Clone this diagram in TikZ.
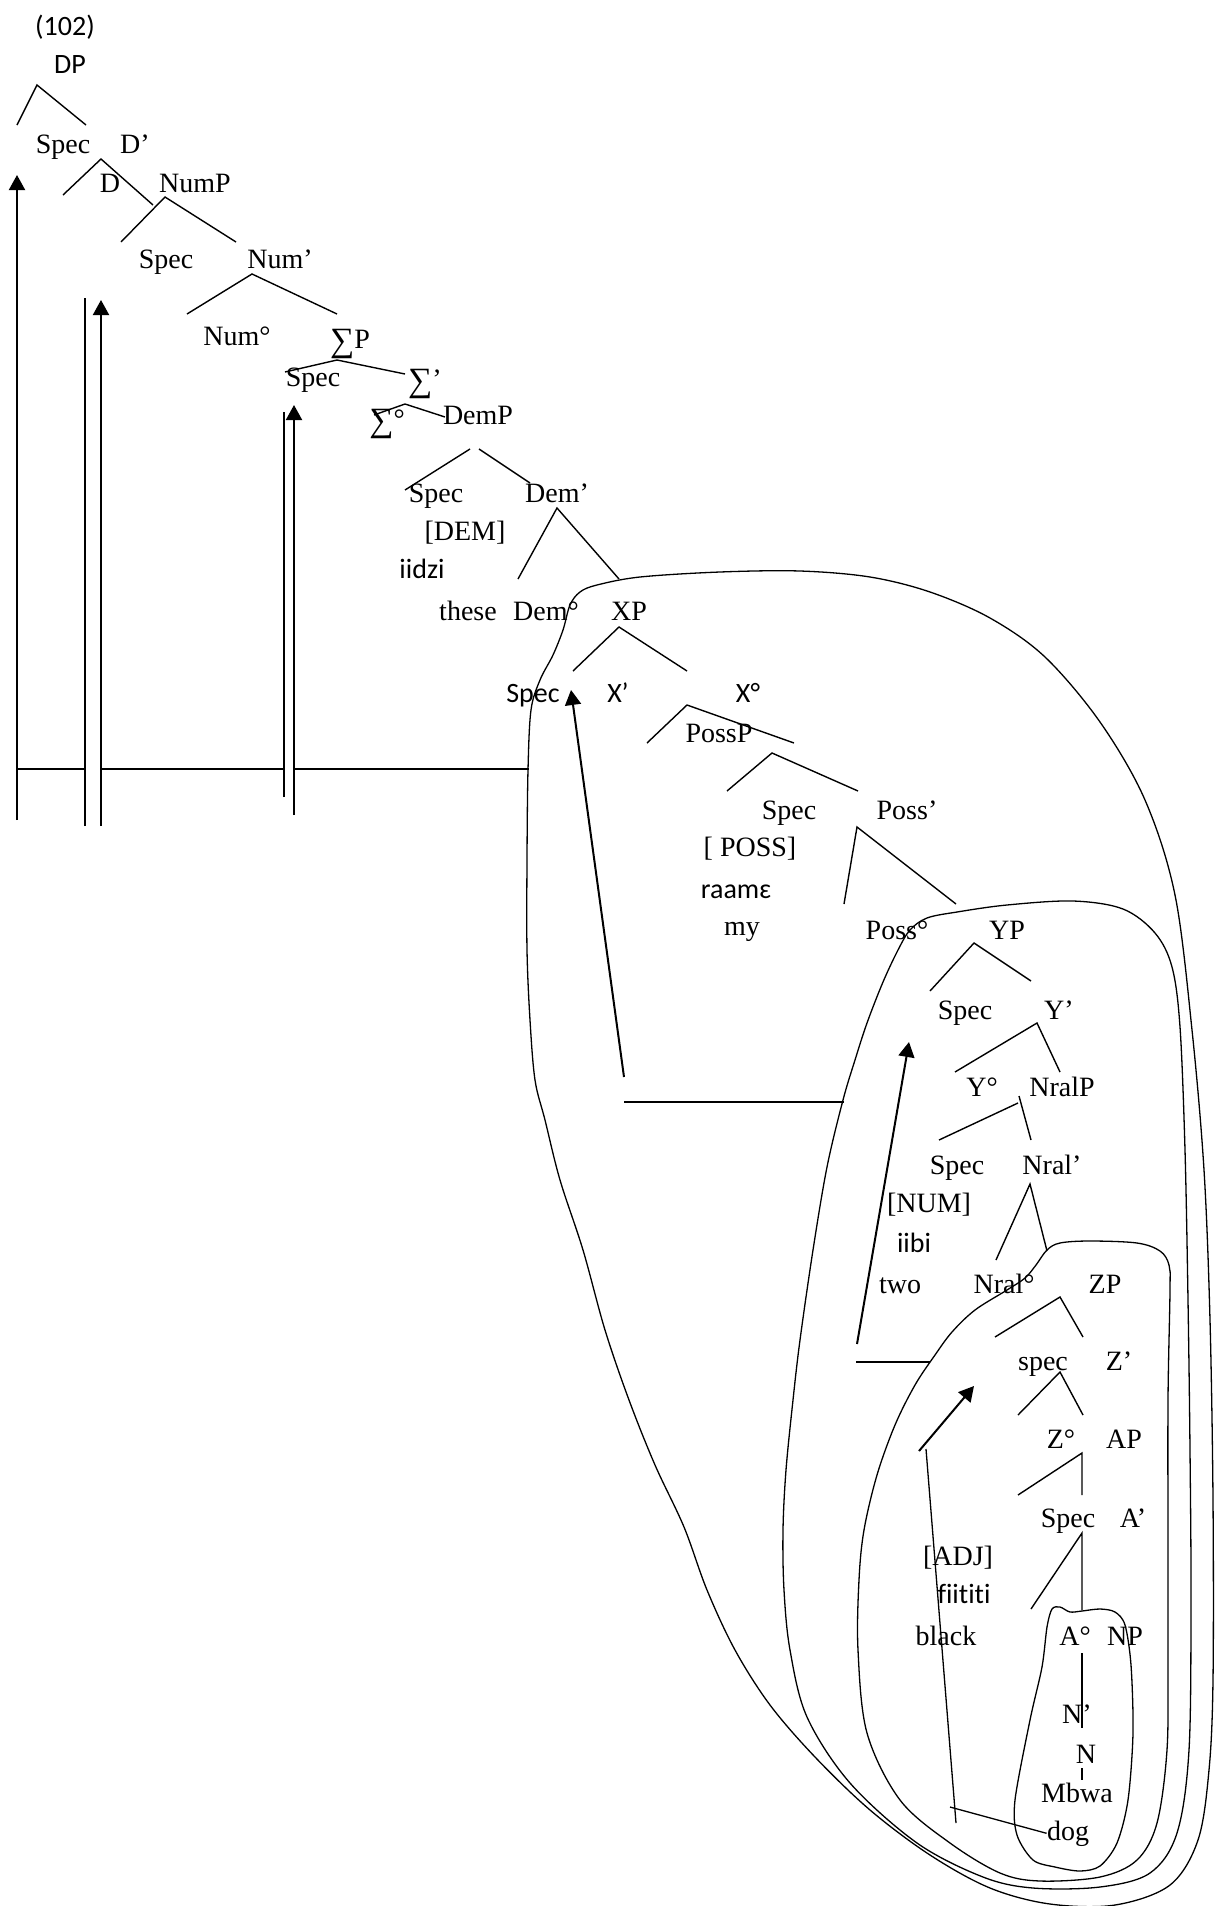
\documentclass[tikz,border=0pt]{standalone}
\usepackage{fontspec}
\setmainfont{Liberation Serif}
\newfontfamily\calib[Ligatures=NoCommon]{Carlito}
\usetikzlibrary{arrows.meta}
\newcommand\sumsign{{\fontsize{17}{17}\selectfont\raisebox{-1.5pt}{∑}}}
\tikzset{
  lab/.style={anchor=base,inner sep=0pt,font=\fontsize{14}{16}\selectfont},
  slab/.style={anchor=base,inner sep=0pt,font=\calib\fontsize{14}{16}\selectfont},
  branch/.style={line width=0.7pt},
  trace/.style={line width=0.65pt},
  mover/.style={line width=1pt,-{Triangle[length=7.5pt,width=8pt]}},
  loopline/.style={line width=0.65pt},
}
\begin{document}
\begin{tikzpicture}[x=0.5pt,y=-0.5pt]
\useasboundingbox (0,0) rectangle (1222,1906);

% labels of the tree
\node[slab] (ex) at (65,35) {(102)};
\node[slab] (dp) at (70,73) {DP};
\node[lab] (specD) at (63,153) {Spec};
\node[lab] (dbar) at (135,153) {D’};
\node[lab] (d) at (110,192) {D};
\node[lab] (nump) at (195,192) {NumP};
\node[lab] (specNum) at (166,268) {Spec};
\node[lab] (numbar) at (280,268) {Num’};
\node[lab] (numhead) at (237,345) {Num°};
\node[lab] (sigp) at (350,348) {\sumsign P};
\node[lab] (specSig) at (313,386) {Spec};
\node[lab] (sigbar) at (425,388) {\sumsign’};
\node[lab] (sighead) at (387,428) {\sumsign°};
\node[lab] (demp) at (478,424) {DemP};
\node[lab] (specDem) at (436,502) {Spec};
\node[lab] (dembar) at (557,502) {Dem’};
\node[lab] (demfeat) at (465,540) {[DEM]};
\node[slab] (iidzi) at (422,578) {iidzi};
\node[lab] (these) at (468,620) {these};
\node[lab] (demhead) at (546,620) {Dem°};
\node[lab] (xp) at (629,620) {XP};
\node[slab] (specX) at (533,702) {Spec};
\node[slab] (xbar) at (618,702) {X’};
\node[slab] (xhead) at (748,702) {X°};
\node[lab] (possp) at (719,742) {PossP};
\node[lab] (specPoss) at (789,819) {Spec};
\node[lab] (possbar) at (907,819) {Poss’};
\node[lab] (possfeat) at (750,856) {[ POSS]};
\node[slab] (raame) at (736,898) {raamɛ};
\node[lab] (my) at (742,935) {my};
\node[lab] (posshead) at (897,939) {Poss°};
\node[lab] (yp) at (1007,939) {YP};
\node[lab] (specY) at (965,1019) {Spec};
\node[lab] (ybar) at (1059,1019) {Y’};
\node[lab] (yhead) at (982,1096) {Y°};
\node[lab] (nralp) at (1062,1096) {NralP};
\node[lab] (specNral) at (957,1174) {Spec};
\node[lab] (nralbar) at (1052,1174) {Nral’};
\node[lab] (numfeat) at (929,1212) {[NUM]};
\node[slab] (iibi) at (914,1252) {iibi};
\node[lab] (two) at (900,1293) {two};
\node[lab] (nralhead) at (1004,1293) {Nral°};
\node[lab] (zp) at (1105,1293) {ZP};
\node[lab] (specZ) at (1043,1370) {spec};
\node[lab] (zbar) at (1119,1370) {Z’};
\node[lab] (zhead) at (1061,1448) {Z°};
\node[lab] (ap) at (1124,1448) {AP};
\node[lab] (specA) at (1068,1527) {Spec};
\node[lab] (abar) at (1133,1527) {A’};
\node[lab] (adjfeat) at (958,1565) {[ADJ]};
\node[slab] (fiititi) at (964,1603) {fiititi};
\node[lab] (black) at (946,1645) {black};
\node[lab] (ahead) at (1075,1645) {A°};
\node[lab] (np) at (1125,1645) {NP};
\node[lab] (nbar) at (1077,1723) {N’};
\node[lab] (n) at (1086,1763) {N};
\node[lab] (mbwa) at (1077,1802) {Mbwa};
\node[lab] (dog) at (1068,1840) {dog};

% branches
\draw[branch] (17,125) -- (37,85) -- (86,125);
\draw[branch] (63,195) -- (101,159) -- (153,205);
\draw[branch] (121,242) -- (165,197) -- (236,242);
\draw[branch] (187,314) -- (252,274) -- (337,314);
\draw[branch] (285,372) -- (337,360) -- (405,374);
\draw[branch] (374,415) -- (405,404) -- (445,417);
\draw[branch] (470,449) -- (405,490);
\draw[branch] (479,449) -- (530,483);
\draw[branch] (518,579) -- (557,508) -- (619,579);
\draw[branch] (573,671) -- (619,627) -- (687,671);
\draw[branch] (647,743) -- (687,705) -- (794,743);
\draw[branch] (727,791) -- (772,753) -- (858,791);
\draw[branch] (844,904) -- (857,827) -- (956,904);
\draw[branch] (930,991) -- (974,943) -- (1031,981);
\draw[branch] (955,1072) -- (1037,1023) -- (1060,1072);
\draw[branch] (939,1140) -- (1018,1103);
\draw[branch] (1019,1096) -- (1031,1140);
\draw[branch] (996,1260) -- (1030,1184) -- (1047,1251);
\draw[branch] (995,1337) -- (1060,1297) -- (1083,1337);
\draw[branch] (1018,1415) -- (1060,1372) -- (1083,1415);
\draw[branch] (1018,1495) -- (1082,1453) -- (1082,1495);
\draw[branch] (1031,1609) -- (1082,1533) -- (1082,1610);
\draw[branch] (1082,1653) -- (1082,1728);
\draw[branch] (1082,1768) -- (1082,1780);

% movement lines on the left
\coordinate (m1s) at (17,820);   \coordinate (m1t) at (17,175);
\coordinate (t2a) at (85,826);   \coordinate (t2b) at (85,298);
\coordinate (m2s) at (101,826);  \coordinate (m2t) at (101,300);
\coordinate (t3a) at (284,797);  \coordinate (t3b) at (284,412);
\coordinate (m3s) at (294,815);  \coordinate (m3t) at (294,405);
\draw[mover] (m1s) -- (m1t);
\draw[trace] (t2a) -- (t2b);
\draw[mover] (m2s) -- (m2t);
\draw[trace] (t3a) -- (t3b);
\draw[mover] (m3s) -- (m3t);
\draw[trace] (17,769) -- (85,769);
\draw[trace] (101,769) -- (284,769);
\draw[trace] (294,769) -- (529,769);

% movement lines inside the loops
\coordinate (m4s) at (624,1077); \coordinate (m4t) at (571,690);
\coordinate (m5s) at (857,1344); \coordinate (m5t) at (909,1042);
\coordinate (m6s) at (919,1451); \coordinate (m6t) at (974,1386);
\draw[mover] (m4s) -- (m4t);
\draw[trace] (624,1102) -- (844,1102);
\draw[mover] (m5s) -- (m5t);
\draw[trace] (856,1362) -- (930,1362);
\draw[mover] (m6s) -- (m6t);
\draw[trace] (926,1449) -- (956,1823);
\draw[trace] (950,1807) -- (dog.west);

% loops
\draw[loopline] plot[smooth cycle,tension=0.55] coordinates {
  (597,585) (640,577) (720,572) (800,571) (870,577) (930,592) (990,618)
  (1045,657) (1100,722) (1145,800) (1175,895) (1192,1030) (1204,1170)
  (1210,1320) (1213,1500) (1213,1680) (1209,1770) (1198,1840) (1170,1885)
  (1115,1905) (1050,1904) (990,1888) (930,1855) (870,1810) (815,1757)
  (770,1705) (735,1650) (707,1590) (684,1527) (655,1465) (629,1400)
  (605,1330) (583,1250) (560,1180) (545,1120) (535,1080) (530,1020)
  (527,950) (527,860) (528,770) (531,710) (540,680) (553,655) (563,630)
  (570,605) (580,592)};
\draw[loopline] plot[smooth cycle,tension=0.55] coordinates {
  (927,918) (957,912) (1007,905) (1073,901) (1123,909) (1155,933)
  (1172,967) (1180,1027) (1185,1150) (1188,1300) (1190,1450) (1191,1600)
  (1189,1750) (1177,1833) (1150,1873) (1100,1887) (1033,1888) (983,1877)
  (917,1843) (850,1783) (807,1717) (790,1650) (784,1590) (783,1530)
  (786,1470) (793,1400) (800,1340) (813,1250) (827,1167) (843,1100)
  (855,1060) (867,1023) (883,982) (898,950) (910,930)};
\draw[loopline] plot[smooth cycle,tension=0.55] coordinates {
  (1047,1250) (1060,1243) (1090,1241) (1137,1243) (1160,1251) (1169,1265)
  (1170,1290) (1168,1400) (1168,1550) (1168,1660) (1167,1750) (1157,1823)
  (1137,1860) (1100,1877) (1040,1881) (1000,1873) (950,1843) (900,1800)
  (867,1733) (858,1650) (859,1580) (864,1530) (877,1475) (895,1425)
  (915,1385) (935,1355) (952,1332) (975,1310) (1007,1290) (1025,1278)
  (1036,1265)};
\draw[loopline] plot[smooth cycle,tension=0.5] coordinates {
  (1052,1609) (1060,1607) (1070,1612) (1082,1611) (1100,1609) (1115,1612)
  (1125,1625) (1131,1665) (1133,1733) (1128,1800) (1117,1843) (1100,1866)
  (1080,1871) (1055,1867) (1033,1860) (1017,1835) (1015,1800) (1030,1720)
  (1042,1667) (1047,1627)};
\end{tikzpicture}
\end{document}
